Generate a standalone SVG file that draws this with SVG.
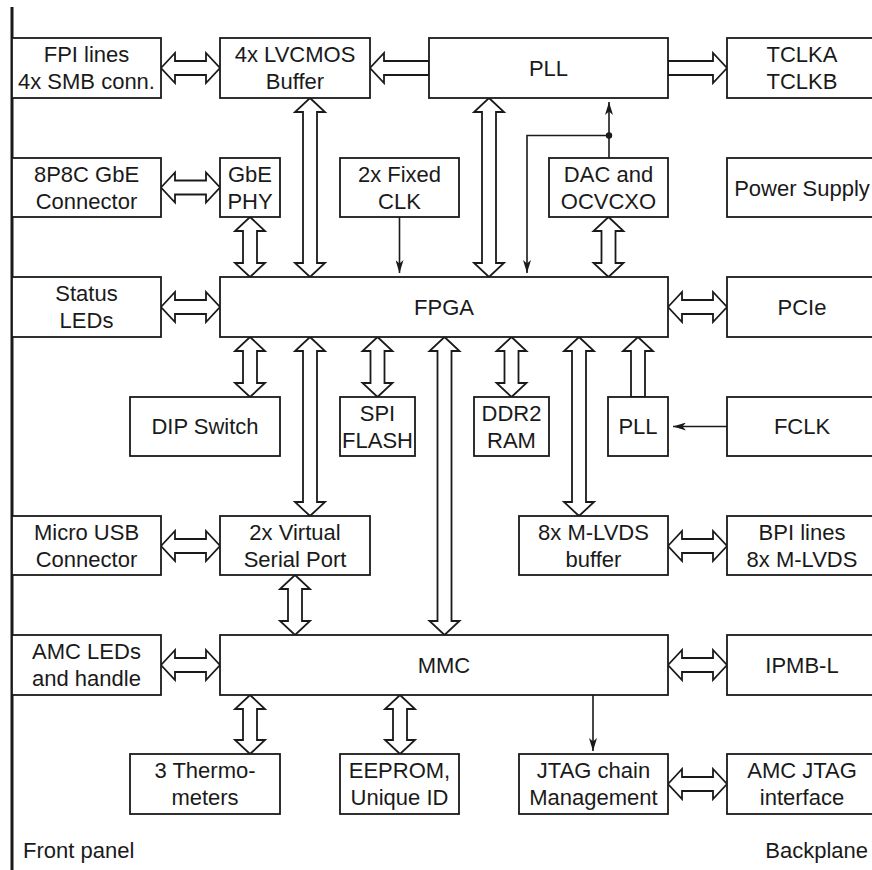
<svg xmlns="http://www.w3.org/2000/svg" width="872" height="870" viewBox="0 0 872 870">
<style>
.b{fill:#fff;stroke:#1a1a1a;stroke-width:1.8}
.t{font-family:"Liberation Sans",Arial,sans-serif;font-size:22px;fill:#1a1a1a;text-anchor:middle}
.a{fill:#fff;stroke:#1a1a1a;stroke-width:1.8;stroke-linejoin:miter}
.l{fill:none;stroke:#1a1a1a;stroke-width:1.6}
.lab{font-family:"Liberation Sans",Arial,sans-serif;font-size:22px;fill:#1a1a1a}
</style>
<defs>
<marker id="ah" viewBox="0 0 13 8" refX="13" refY="4" markerWidth="13" markerHeight="8" markerUnits="userSpaceOnUse" orient="auto">
<path d="M0,0 L13,4 L0,8 L3.5,4 z" fill="#1a1a1a"/>
</marker>
</defs>
<rect width="872" height="870" fill="#fff"/>
<line x1="12" y1="7" x2="12" y2="870" stroke="#1a1a1a" stroke-width="3"/>

<g id="connectors">
<polygon class="a" points="161,68 175,53 175,61 206,61 206,53 220,68 206,83 206,75 175,75 175,83"/>
<polygon class="a" points="161,187.5 175,172.5 175,180.5 206,180.5 206,172.5 220,187.5 206,202.5 206,194.5 175,194.5 175,202.5"/>
<polygon class="a" points="161,307 175,292 175,300 206,300 206,292 220,307 206,322 206,314 175,314 175,322"/>
<polygon class="a" points="161,546 175,531 175,539 206,539 206,531 220,546 206,561 206,553 175,553 175,561"/>
<polygon class="a" points="161,665 175,650 175,658 206,658 206,650 220,665 206,680 206,672 175,672 175,680"/>
<polygon class="a" points="668,307 682,292 682,300 713,300 713,292 727,307 713,322 713,314 682,314 682,322"/>
<polygon class="a" points="668,546 682,531 682,539 713,539 713,531 727,546 713,561 713,553 682,553 682,561"/>
<polygon class="a" points="668,665 682,650 682,658 713,658 713,650 727,665 713,680 713,672 682,672 682,680"/>
<polygon class="a" points="668,784 682,769 682,777 713,777 713,769 727,784 713,799 713,791 682,791 682,799"/>
<polygon class="a" points="429,61 384,61 384,53 370,68 384,83 384,75 429,75"/>
<polygon class="a" points="668,61 713,61 713,53 727,68 713,83 713,75 668,75"/>
<polygon class="a" points="631,397 631,351 623,351 638,337 653,351 645,351 645,397"/>
<polygon class="a" points="310,98 325,112 317,112 317,263 325,263 310,277 295,263 303,263 303,112 295,112"/>
<polygon class="a" points="250,217 265,231 257,231 257,263 265,263 250,277 235,263 243,263 243,231 235,231"/>
<polygon class="a" points="489,98 504,112 496,112 496,263 504,263 489,277 474,263 482,263 482,112 474,112"/>
<polygon class="a" points="608.5,217 623.5,231 615.5,231 615.5,263 623.5,263 608.5,277 593.5,263 601.5,263 601.5,231 593.5,231"/>
<polygon class="a" points="250,337 265,351 257,351 257,383 265,383 250,397 235,383 243,383 243,351 235,351"/>
<polygon class="a" points="310,337 325,351 317,351 317,502 325,502 310,516 295,502 303,502 303,351 295,351"/>
<polygon class="a" points="377.5,337 392.5,351 384.5,351 384.5,383 392.5,383 377.5,397 362.5,383 370.5,383 370.5,351 362.5,351"/>
<polygon class="a" points="444.5,337 459.5,351 451.5,351 451.5,621 459.5,621 444.5,635 429.5,621 437.5,621 437.5,351 429.5,351"/>
<polygon class="a" points="511.5,337 526.5,351 518.5,351 518.5,383 526.5,383 511.5,397 496.5,383 504.5,383 504.5,351 496.5,351"/>
<polygon class="a" points="579,337 594,351 586,351 586,502 594,502 579,516 564,502 572,502 572,351 564,351"/>
<polygon class="a" points="295,575 310,589 302,589 302,621 310,621 295,635 280,621 288,621 288,589 280,589"/>
<polygon class="a" points="250,695 265,709 257,709 257,740 265,740 250,754 235,740 243,740 243,709 235,709"/>
<polygon class="a" points="400,695 415,709 407,709 407,740 415,740 400,754 385,740 393,740 393,709 385,709"/>
<line class="l" x1="399.5" y1="217" x2="399.5" y2="273" marker-end="url(#ah)"/>
<polyline class="l" points="609,135.5 527,135.5 527,273" marker-end="url(#ah)"/>
<line class="l" x1="609" y1="158" x2="609" y2="102" marker-end="url(#ah)"/>
<circle cx="609" cy="135.5" r="3.2" fill="#1a1a1a"/>
<line class="l" x1="727" y1="426.5" x2="673" y2="426.5" marker-end="url(#ah)"/>
<line class="l" x1="593" y1="695" x2="593" y2="751" marker-end="url(#ah)"/>
</g>

<g id="fpi"><rect class="b" x="12" y="38" width="149" height="60"/><text class="t" x="86.5" y="62">FPI lines</text><text class="t" x="86.5" y="89">4x SMB conn.</text></g>
<g id="lvcmos"><rect class="b" x="220" y="38" width="150" height="60"/><text class="t" x="295" y="62">4x LVCMOS</text><text class="t" x="295" y="89">Buffer</text></g>
<g id="pll"><rect class="b" x="429" y="38" width="239" height="60"/><text class="t" x="548.5" y="76">PLL</text></g>
<g id="tclk"><rect class="b" x="727" y="38" width="150" height="60"/><text class="t" x="802" y="62">TCLKA</text><text class="t" x="802" y="89">TCLKB</text></g>

<g id="gbeconn"><rect class="b" x="12" y="158" width="149" height="59"/><text class="t" x="86.5" y="182">8P8C GbE</text><text class="t" x="86.5" y="208.5">Connector</text></g>
<g id="gbephy"><rect class="b" x="220" y="158" width="60" height="59"/><text class="t" x="250" y="182">GbE</text><text class="t" x="250" y="208.5">PHY</text></g>
<g id="fixedclk"><rect class="b" x="340" y="158" width="119" height="59"/><text class="t" x="399.5" y="182">2x Fixed</text><text class="t" x="399.5" y="208.5">CLK</text></g>
<g id="dac"><rect class="b" x="549" y="158" width="119" height="59"/><text class="t" x="608.5" y="182">DAC and</text><text class="t" x="608.5" y="208.5">OCVCXO</text></g>
<g id="power"><rect class="b" x="727" y="158" width="150" height="59"/><text class="t" x="802" y="195.5">Power Supply</text></g>

<g id="status"><rect class="b" x="12" y="277" width="149" height="60"/><text class="t" x="86.5" y="300.5">Status</text><text class="t" x="86.5" y="327.5">LEDs</text></g>
<g id="fpga"><rect class="b" x="220" y="277" width="448" height="60"/><text class="t" x="444" y="315">FPGA</text></g>
<g id="pcie"><rect class="b" x="727" y="277" width="150" height="60"/><text class="t" x="802" y="315">PCIe</text></g>

<g id="dip"><rect class="b" x="130" y="397" width="150" height="59"/><text class="t" x="205" y="434">DIP Switch</text></g>
<g id="spi"><rect class="b" x="340" y="397" width="75" height="59"/><text class="t" x="377.5" y="421">SPI</text><text class="t" x="377.5" y="447.5">FLASH</text></g>
<g id="ddr2"><rect class="b" x="474" y="397" width="75" height="59"/><text class="t" x="511.5" y="421">DDR2</text><text class="t" x="511.5" y="447.5">RAM</text></g>
<g id="pll2"><rect class="b" x="608" y="397" width="60" height="59"/><text class="t" x="638" y="434">PLL</text></g>
<g id="fclk"><rect class="b" x="727" y="397" width="150" height="59"/><text class="t" x="802" y="434">FCLK</text></g>

<g id="usb"><rect class="b" x="12" y="516" width="149" height="59"/><text class="t" x="86.5" y="540">Micro USB</text><text class="t" x="86.5" y="566.5">Connector</text></g>
<g id="vsp"><rect class="b" x="220" y="516" width="150" height="59"/><text class="t" x="295" y="540">2x Virtual</text><text class="t" x="295" y="566.5">Serial Port</text></g>
<g id="mlvds"><rect class="b" x="519" y="516" width="149" height="59"/><text class="t" x="593.5" y="540">8x M-LVDS</text><text class="t" x="593.5" y="566.5">buffer</text></g>
<g id="bpi"><rect class="b" x="727" y="516" width="150" height="59"/><text class="t" x="802" y="540">BPI lines</text><text class="t" x="802" y="566.5">8x M-LVDS</text></g>

<g id="amcleds"><rect class="b" x="12" y="635" width="149" height="60"/><text class="t" x="86.5" y="659">AMC LEDs</text><text class="t" x="86.5" y="686">and handle</text></g>
<g id="mmc"><rect class="b" x="220" y="635" width="448" height="60"/><text class="t" x="444" y="673">MMC</text></g>
<g id="ipmb"><rect class="b" x="727" y="635" width="150" height="60"/><text class="t" x="802" y="673">IPMB-L</text></g>

<g id="thermo"><rect class="b" x="130" y="754" width="150" height="60"/><text class="t" x="205" y="778">3 Thermo-</text><text class="t" x="205" y="805">meters</text></g>
<g id="eeprom"><rect class="b" x="340" y="754" width="119" height="60"/><text class="t" x="399.5" y="778">EEPROM,</text><text class="t" x="399.5" y="805">Unique ID</text></g>
<g id="jtag"><rect class="b" x="519" y="754" width="149" height="60"/><text class="t" x="593.5" y="778">JTAG chain</text><text class="t" x="593.5" y="805">Management</text></g>
<g id="amcjtag"><rect class="b" x="727" y="754" width="150" height="60"/><text class="t" x="802" y="778">AMC JTAG</text><text class="t" x="802" y="805">interface</text></g>

<text class="lab" x="23" y="858">Front panel</text>
<text class="lab" x="868" y="858" text-anchor="end">Backplane</text>
</svg>
